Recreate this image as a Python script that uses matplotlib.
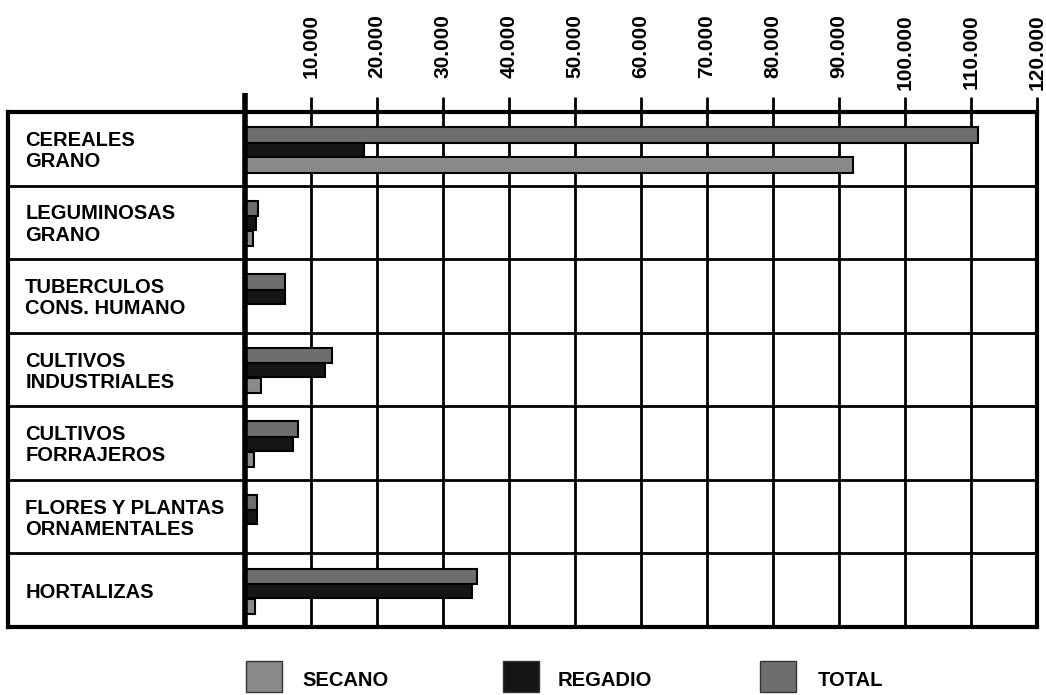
import matplotlib.pyplot as plt
from matplotlib.patches import Rectangle

# data (hectares)
cultivos = ["CEREALES\nGRANO", "LEGUMINOSAS\nGRANO", "TUBERCULOS\nCONS. HUMANO",
            "CULTIVOS\nINDUSTRIALES", "CULTIVOS\nFORRAJEROS",
            "FLORES Y PLANTAS\nORNAMENTALES", "HORTALIZAS"]
total = [111000, 2000, 6000, 13200, 8000, 1800, 35100]
regadio = [18000, 1700, 6000, 12100, 7300, 1800, 34400]
secano = [92100, 1200, 0, 2400, 1400, 0, 1500]
ticks = [10000, 20000, 30000, 40000, 50000, 60000, 70000, 80000, 90000, 100000, 110000, 120000]
tick_labels = ["10.000", "20.000", "30.000", "40.000", "50.000", "60.000",
               "70.000", "80.000", "90.000", "100.000", "110.000", "120.000"]
series = ["SECANO", "REGADIO", "TOTAL"]

plt.rcParams['font.family'] = ['Liberation Sans', 'DejaVu Sans']
plt.rcParams['font.weight'] = 'bold'

c_secano = '#8a8a8a'
c_regadio = '#151515'
c_total = '#6e6e6e'

fig = plt.figure(figsize=(10.46, 6.95), dpi=100)
W, H = 1046, 695
ax = fig.add_axes([8 / W, (H - 627) / H, (1037 - 8) / W, (627 - 112) / H])

xmax = 120000
xmin = -(245 - 8) / (1037 - 245) * xmax
ax.set_xlim(xmin, xmax)
ax.set_ylim(6.5, -0.5)

n = len(cultivos)
ys = list(range(n))
h = 0.21
ax.barh([y - 0.19 for y in ys], total, height=h, left=0, color=c_total, edgecolor='black', linewidth=1.5, zorder=3)
ax.barh([y + 0.22 for y in ys], secano, height=h, left=0, color=c_secano, edgecolor='black', linewidth=1.5, zorder=3)
ax.barh([y + 0.01 for y in ys], regadio, height=0.19, left=0, color=c_regadio, edgecolor='black', linewidth=1.5, zorder=4)

# grid
for t in ticks[:-1]:
    ax.axvline(t, color='black', linewidth=2, zorder=2)
for k in range(n - 1):
    ax.axhline(k + 0.5, color='black', linewidth=2, zorder=2)
ax.axvline(0, color='black', linewidth=4, zorder=5)
ax.plot([0, 0], [1.0, 1.0 + 19 / 515], transform=ax.get_xaxis_transform(), color='black',
        linewidth=4, clip_on=False, solid_capstyle='butt')

for s in ax.spines.values():
    s.set_linewidth(3)

ax.xaxis.tick_top()
ax.set_xticks(ticks)
ax.set_xticklabels([])
ax.tick_params(axis='x', direction='out', length=11, width=2)
ax.set_yticks([])

# tick labels hang from the top of the figure
label_y = 1 + (112 - 14) / 515
for t, lab in zip(ticks, tick_labels):
    ax.text(t, label_y, lab, transform=ax.get_xaxis_transform(), rotation=90,
            ha='center', va='top', fontsize=15, fontweight='bold')

for i, lab in enumerate(cultivos):
    ax.text(xmin + 2600, i + 0.03, lab, ha='left', va='center', fontsize=14.5,
            fontweight='bold', linespacing=1.15)

# legend
legend_x = [246, 503, 760]
text_x = [302, 558, 818]
colors = [c_secano, c_regadio, c_total]
for name, sx, tx, c in zip(series, legend_x, text_x, colors):
    fig.patches.append(Rectangle((sx / W, (H - 692) / H), 36 / W, 31 / H,
                                 transform=fig.transFigure, facecolor=c,
                                 edgecolor='#333333', linewidth=1))
    fig.text(tx / W, (H - 680) / H, name, ha='left', va='center', fontsize=14.5, fontweight='bold')

fig.savefig('out.png', dpi=100)
